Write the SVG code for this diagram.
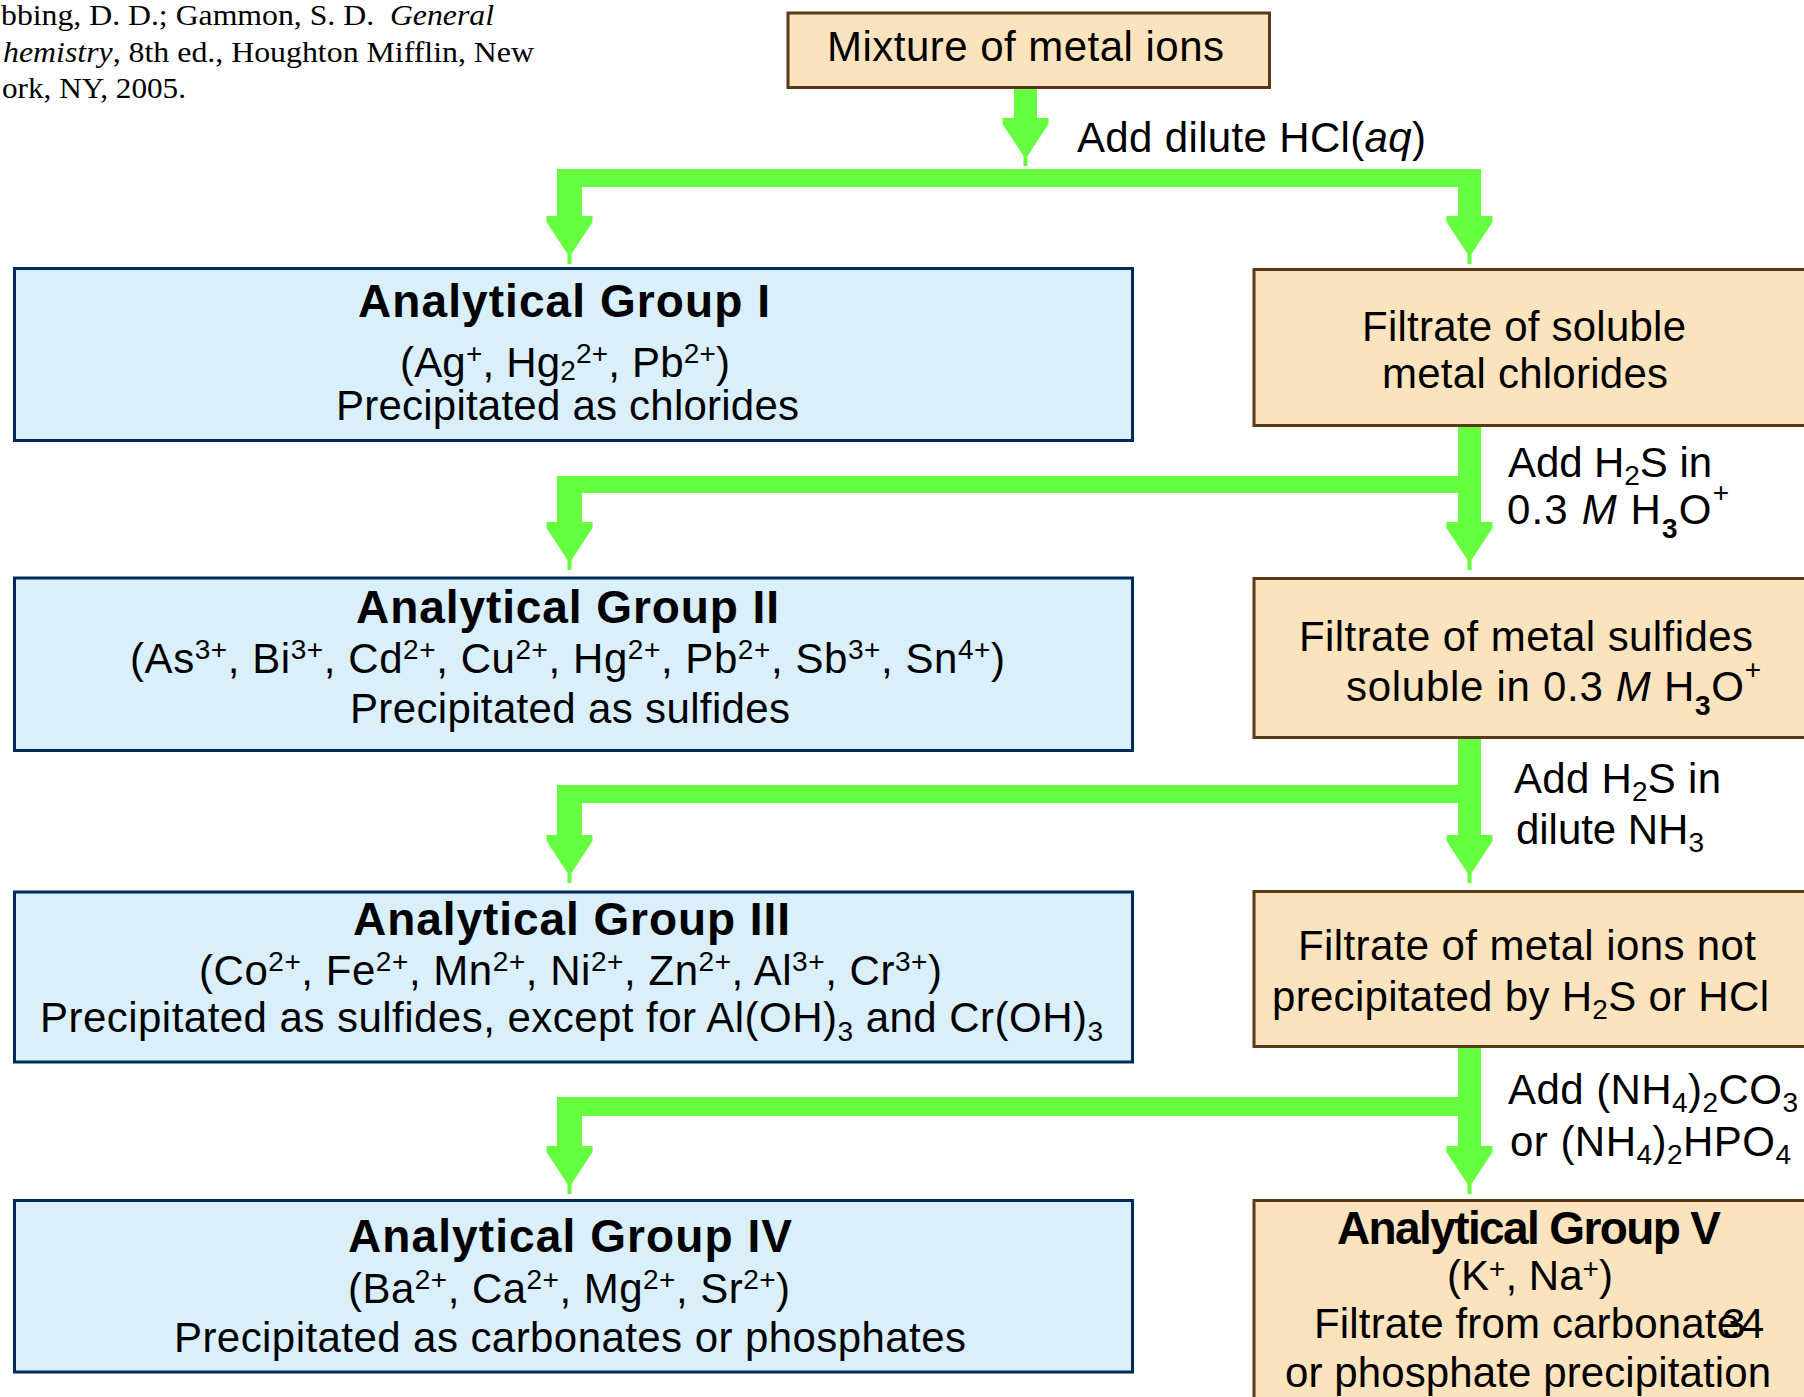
<svg xmlns="http://www.w3.org/2000/svg" width="1804" height="1397" viewBox="0 0 1804 1397">
<style>
.t{font-family:"Liberation Sans",Arial,sans-serif;font-size:42px;fill:#000}
.b{font-weight:bold;font-size:46px}
.s{font-size:28px}
.c{font-family:"Liberation Serif","Times New Roman",serif;font-size:30px;fill:#000}
.i{font-style:italic}
.bx{fill:#fbe3bd;stroke:#5a3a14;stroke-width:3}
.gx{fill:#d9effc;stroke:#002a5a;stroke-width:3}
.g{fill:#66ff40}
</style>
<defs>
<path id="ah" d="M-23,0H23V6L2,38V48H-2V38L-23,6Z"/>
</defs>
<rect width="1804" height="1397" fill="#fff"/>

<g id="citation">
<text class="c" x="1" y="25" textLength="493" lengthAdjust="spacingAndGlyphs" xml:space="preserve">bbing, D. D.; Gammon, S. D.  <tspan class="i">General</tspan></text>
<text class="c" x="3" y="62" textLength="531" lengthAdjust="spacingAndGlyphs"><tspan class="i">hemistry</tspan>, 8th ed., Houghton Mifflin, New</text>
<text class="c" x="2" y="98" textLength="184" lengthAdjust="spacingAndGlyphs">ork, NY, 2005.</text>
</g>

<g id="connectors" class="g">
<rect x="1014" y="88" width="23" height="32"/>
<use href="#ah" x="1025.5" y="118"/>
<path d="M557,169H1481V217H1458V187H582V217H557Z"/>
<use href="#ah" x="569.5" y="216"/>
<use href="#ah" x="1469.5" y="216"/>
<path d="M1458,427H1481V523H1458V493H582V523H557V476H1458Z"/>
<use href="#ah" x="569.5" y="522"/>
<use href="#ah" x="1469.5" y="522"/>
<path d="M1458,739H1481V836H1458V803H582V836H557V785H1458Z"/>
<use href="#ah" x="569.5" y="835"/>
<use href="#ah" x="1469.5" y="835"/>
<path d="M1458,1048H1481V1147H1458V1116H582V1147H557V1097H1458Z"/>
<use href="#ah" x="569.5" y="1146"/>
<use href="#ah" x="1469.5" y="1146"/>
</g>

<g id="labels">
<text class="t" x="1077" y="152" textLength="349">Add dilute HCl(<tspan class="i">aq</tspan>)</text>
<text class="t" x="1508" y="477" textLength="204">Add H<tspan class="s" dy="8">2</tspan><tspan dy="-8">S in</tspan></text>
<text class="t" x="1507" y="524" textLength="222">0.3 <tspan class="i">M</tspan> H<tspan class="s" font-weight="bold" dy="14">3</tspan><tspan dy="-14">O</tspan><tspan class="s" dy="-22">+</tspan></text>
<text class="t" x="1514" y="793" textLength="207">Add H<tspan class="s" dy="8">2</tspan><tspan dy="-8">S in</tspan></text>
<text class="t" x="1516" y="844" textLength="188">dilute NH<tspan class="s" dy="8">3</tspan></text>
<text class="t" x="1508" y="1104" textLength="290">Add (NH<tspan class="s" dy="8">4</tspan><tspan dy="-8">)</tspan><tspan class="s" dy="8">2</tspan><tspan dy="-8">CO</tspan><tspan class="s" dy="8">3</tspan></text>
<text class="t" x="1510" y="1156" textLength="281">or (NH<tspan class="s" dy="8">4</tspan><tspan dy="-8">)</tspan><tspan class="s" dy="8">2</tspan><tspan dy="-8">HPO</tspan><tspan class="s" dy="8">4</tspan></text>
</g>

<g id="mixture">
<rect class="bx" x="788" y="13" width="481.5" height="74.5"/>
<text class="t" x="827" y="61" textLength="397">Mixture of metal ions</text>
</g>

<g id="group1">
<rect class="gx" x="14.5" y="268.5" width="1118" height="172"/>
<text class="t b" x="358" y="317" textLength="412">Analytical Group I</text>
<text class="t" x="400" y="377" textLength="330">(Ag<tspan class="s" dy="-14">+</tspan><tspan dy="14">, Hg</tspan><tspan class="s" dy="3">2</tspan><tspan class="s" dy="-17">2+</tspan><tspan dy="14">, Pb</tspan><tspan class="s" dy="-14">2+</tspan><tspan dy="14">)</tspan></text>
<text class="t" x="336" y="420" textLength="463">Precipitated as chlorides</text>
</g>

<g id="filtrate1">
<rect class="bx" x="1254" y="269.5" width="600" height="156"/>
<text class="t" x="1362" y="341" textLength="324">Filtrate of soluble</text>
<text class="t" x="1382" y="388" textLength="286">metal chlorides</text>
</g>

<g id="group2">
<rect class="gx" x="14.5" y="578" width="1118" height="172.5"/>
<text class="t b" x="356" y="623" textLength="423">Analytical Group II</text>
<text class="t" x="130" y="673" textLength="875">(As<tspan class="s" dy="-14">3+</tspan><tspan dy="14">, Bi</tspan><tspan class="s" dy="-14">3+</tspan><tspan dy="14">, Cd</tspan><tspan class="s" dy="-14">2+</tspan><tspan dy="14">, Cu</tspan><tspan class="s" dy="-14">2+</tspan><tspan dy="14">, Hg</tspan><tspan class="s" dy="-14">2+</tspan><tspan dy="14">, Pb</tspan><tspan class="s" dy="-14">2+</tspan><tspan dy="14">, Sb</tspan><tspan class="s" dy="-14">3+</tspan><tspan dy="14">, Sn</tspan><tspan class="s" dy="-14">4+</tspan><tspan dy="14">)</tspan></text>
<text class="t" x="350" y="723" textLength="440">Precipitated as sulfides</text>
</g>

<g id="filtrate2">
<rect class="bx" x="1254" y="578.5" width="600" height="159"/>
<text class="t" x="1299" y="651" textLength="454">Filtrate of metal sulfides</text>
<text class="t" x="1346" y="701" textLength="415">soluble in 0.3 <tspan class="i">M</tspan> H<tspan class="s" font-weight="bold" dy="14">3</tspan><tspan dy="-14">O</tspan><tspan class="s" dy="-22">+</tspan></text>
</g>

<g id="group3">
<rect class="gx" x="14.5" y="892" width="1118" height="170"/>
<text class="t b" x="353" y="935" textLength="437">Analytical Group III</text>
<text class="t" x="199" y="985" textLength="743">(Co<tspan class="s" dy="-14">2+</tspan><tspan dy="14">, Fe</tspan><tspan class="s" dy="-14">2+</tspan><tspan dy="14">, Mn</tspan><tspan class="s" dy="-14">2+</tspan><tspan dy="14">, Ni</tspan><tspan class="s" dy="-14">2+</tspan><tspan dy="14">, Zn</tspan><tspan class="s" dy="-14">2+</tspan><tspan dy="14">, Al</tspan><tspan class="s" dy="-14">3+</tspan><tspan dy="14">, Cr</tspan><tspan class="s" dy="-14">3+</tspan><tspan dy="14">)</tspan></text>
<text class="t" x="40" y="1032" textLength="1063">Precipitated as sulfides, except for Al(OH)<tspan class="s" dy="9">3</tspan><tspan dy="-9"> and Cr(OH)</tspan><tspan class="s" dy="9">3</tspan></text>
</g>

<g id="filtrate3">
<rect class="bx" x="1254" y="891.5" width="600" height="155"/>
<text class="t" x="1298" y="960" textLength="458">Filtrate of metal ions not</text>
<text class="t" x="1272" y="1011" textLength="497">precipitated by H<tspan class="s" dy="8">2</tspan><tspan dy="-8">S or HCl</tspan></text>
</g>

<g id="group4">
<rect class="gx" x="14.5" y="1200.5" width="1118" height="171.5"/>
<text class="t b" x="348" y="1252" textLength="444">Analytical Group IV</text>
<text class="t" x="348" y="1303" textLength="442">(Ba<tspan class="s" dy="-14">2+</tspan><tspan dy="14">, Ca</tspan><tspan class="s" dy="-14">2+</tspan><tspan dy="14">, Mg</tspan><tspan class="s" dy="-14">2+</tspan><tspan dy="14">, Sr</tspan><tspan class="s" dy="-14">2+</tspan><tspan dy="14">)</tspan></text>
<text class="t" x="174" y="1352" textLength="792">Precipitated as carbonates or phosphates</text>
</g>

<g id="group5">
<rect class="bx" x="1254" y="1200.5" width="600" height="300"/>
<text class="t b" x="1337" y="1244" font-size="43" textLength="384">Analytical Group V</text>
<text class="t" x="1447" y="1290" textLength="166">(K<tspan class="s" dy="-12">+</tspan><tspan dy="12">, Na</tspan><tspan class="s" dy="-12">+</tspan><tspan dy="12">)</tspan></text>
<text class="t" x="1314" y="1338" textLength="426">Filtrate from carbonate</text>
<text class="t" x="1722" y="1338" textLength="42">34</text>
<text class="t" x="1285" y="1387" textLength="486">or phosphate precipitation</text>
</g>
</svg>
